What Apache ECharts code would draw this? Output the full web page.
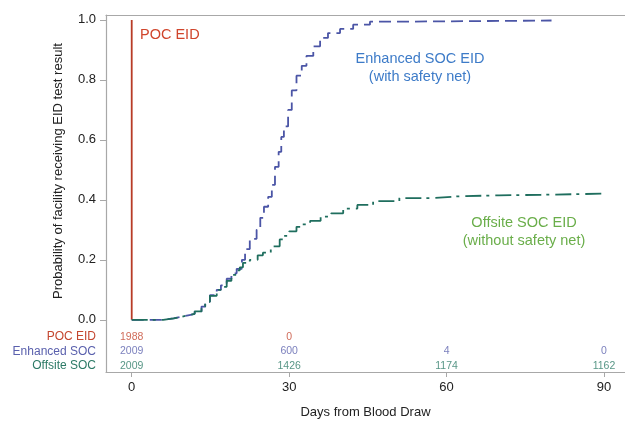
<!DOCTYPE html>
<html><head><meta charset="utf-8">
<script src="https://cdn.jsdelivr.net/npm/echarts@6/dist/echarts.min.js"></script>
<style>html,body{margin:0;padding:0;background:#fff}#c{width:625px;height:424px}</style>
</head><body><div id="c"></div>
<script>
// ---- data ----
const xTicks = [0, 30, 60, 90];
const yTicks = [0, 0.2, 0.4, 0.6, 0.8, 1.0];
const groups = ['POC EID', 'Enhanced SOC', 'Offsite SOC'];
const pocCurve = [[0, 0], [0, 1]];
const enhancedCurve = [[0,0],[6,0.005],[8,0.01],[9.5,0.016],[11,0.02],[12,0.028],[13.3,0.044],[14,0.06],[14.9,0.082],[16.2,0.10],[17,0.115],[18.1,0.137],[19,0.155],[20,0.17],[21,0.20],[21.6,0.236],[22.5,0.27],[23.8,0.30],[24.5,0.34],[25.2,0.377],[26,0.41],[26.7,0.45],[27.3,0.51],[28,0.56],[28.5,0.61],[29,0.645],[29.8,0.70],[30.5,0.765],[31.4,0.814],[32.4,0.847],[33.3,0.88],[34.6,0.912],[35.9,0.94],[37.4,0.956],[39.7,0.97],[42.2,0.984],[45.4,0.994],[50,0.998],[80,0.998]];
const offsiteCurve = [[0,0],[6,0.005],[8,0.01],[9.5,0.016],[11,0.02],[12,0.028],[13.3,0.044],[14,0.06],[14.9,0.08],[16.2,0.10],[17,0.11],[18.1,0.13],[19,0.15],[20,0.165],[20.6,0.175],[21.2,0.19],[22.5,0.2],[24,0.215],[25,0.224],[26.5,0.245],[28.2,0.268],[29,0.28],[30,0.295],[31.4,0.31],[32.5,0.318],[34,0.33],[36,0.344],[38,0.355],[40.3,0.371],[43,0.383],[46,0.396],[51,0.406],[57,0.412],[62.5,0.415],[70,0.417],[78,0.419],[85,0.421],[90,0.421]];
const atRiskDays = [0, 30, 60, 90];
const atRiskPOC = [1988, 0, null, null];
const atRiskEnhanced = [2009, 600, 4, 0];
const atRiskOffsite = [2009, 1426, 1174, 1162];

// ---- layout / style ----
const FONT = 'Liberation Sans, Arial, sans-serif';
const AXIS_COLOR = '#a8a8a8';
const rowY = [-0.056, -0.105, -0.154];
const rowColors = ['#c4462f', '#5a60ad', '#2c7a66'];
const rowRich = ['poc', 'enh', 'off'];

function riskData(vals, r) {
  const out = [];
  atRiskDays.forEach((d, i) => { if (vals[i] !== null) out.push([d, rowY[r], vals[i]]); });
  return out;
}
function riskSeries(vals, r) {
  return {
    type: 'scatter', data: riskData(vals, r), symbolSize: 0, silent: true,
    label: { show: true, position: 'inside', formatter: p => String(p.value[2]),
      color: rowColors[r], fontSize: 10.5, fontFamily: FONT }
  };
}

const chart = echarts.init(document.getElementById('c'));
const rich = {};
rowRich.forEach((k, i) => rich[k] = { color: rowColors[i], fontSize: 12, fontFamily: FONT });

chart.setOption({
  animation: false,
  backgroundColor: '#fff',
  grid: { left: 106, right: 0, top: 15, bottom: 46, show: false },
  xAxis: [{
    type: 'value', min: -4.9, max: 94,
    name: 'Days from Blood Draw', nameLocation: 'middle', nameGap: 34,
    nameTextStyle: { fontSize: 13, color: '#222', fontFamily: FONT },
    axisLine: { show: true, onZero: false, lineStyle: { color: AXIS_COLOR, width: 1.2 } },
    axisTick: { show: true, length: 5, customValues: xTicks, lineStyle: { color: AXIS_COLOR } },
    axisLabel: { customValues: xTicks, fontSize: 13, color: '#222', fontFamily: FONT, margin: 9 },
    splitLine: { show: false }
  }, {
    type: 'value', position: 'top', min: -4.9, max: 94,
    axisLine: { show: true, onZero: false, lineStyle: { color: AXIS_COLOR, width: 1.2 } },
    axisTick: { show: false }, axisLabel: { show: false }, splitLine: { show: false }
  }],
  yAxis: {
    type: 'value', min: -0.174, max: 1.0164,
    axisLine: { show: true, onZero: false, lineStyle: { color: AXIS_COLOR, width: 1.2 } },
    axisTick: { show: true, length: 6, customValues: yTicks, lineStyle: { color: AXIS_COLOR } },
    axisLabel: {
      customValues: yTicks.concat(rowY), margin: 10, fontSize: 13, color: '#222', fontFamily: FONT,
      formatter: v => {
        const r = rowY.findIndex(y => Math.abs(y - v) < 1e-6);
        if (r >= 0) return '{' + rowRich[r] + '|' + groups[r] + '}';
        return v.toFixed(1);
      },
      rich: rich
    },
    splitLine: { show: false }
  },
  graphic: [
    { type: 'text', x: 58, y: 171, rotation: Math.PI / 2,
      style: { text: 'Probability of facility receiving EID test result', fill: '#222',
        font: '13px ' + FONT, textAlign: 'center', textVerticalAlign: 'middle' } },
    { type: 'text', x: 140, y: 35,
      style: { text: 'POC EID', fill: '#d0452c', font: '14.5px ' + FONT, textAlign: 'left', textVerticalAlign: 'middle' } },
    { type: 'text', x: 420, y: 59,
      style: { text: 'Enhanced SOC EID', fill: '#3d7bc8', font: '14.5px ' + FONT, textAlign: 'center', textVerticalAlign: 'middle' } },
    { type: 'text', x: 420, y: 77,
      style: { text: '(with safety net)', fill: '#3d7bc8', font: '14.5px ' + FONT, textAlign: 'center', textVerticalAlign: 'middle' } },
    { type: 'text', x: 524, y: 223,
      style: { text: 'Offsite SOC EID', fill: '#6aae4a', font: '14.5px ' + FONT, textAlign: 'center', textVerticalAlign: 'middle' } },
    { type: 'text', x: 524, y: 241,
      style: { text: '(without safety net)', fill: '#6aae4a', font: '14.5px ' + FONT, textAlign: 'center', textVerticalAlign: 'middle' } }
  ],
  series: [
    { type: 'line', data: pocCurve, showSymbol: false, silent: true,
      lineStyle: { color: '#b83c26', width: 1.8 } },
    { type: 'line', data: enhancedCurve, step: 'end', showSymbol: false, silent: true,
      lineStyle: { color: '#4b55a6', width: 1.8, type: [12, 6] } },
    { type: 'line', data: offsiteCurve, step: 'end', showSymbol: false, silent: true,
      lineStyle: { color: '#1f6e5e', width: 1.8, type: [16, 5, 3, 6] } },
    riskSeries(atRiskPOC, 0),
    riskSeries(atRiskEnhanced, 1),
    riskSeries(atRiskOffsite, 2)
  ]
});
</script></body></html>
